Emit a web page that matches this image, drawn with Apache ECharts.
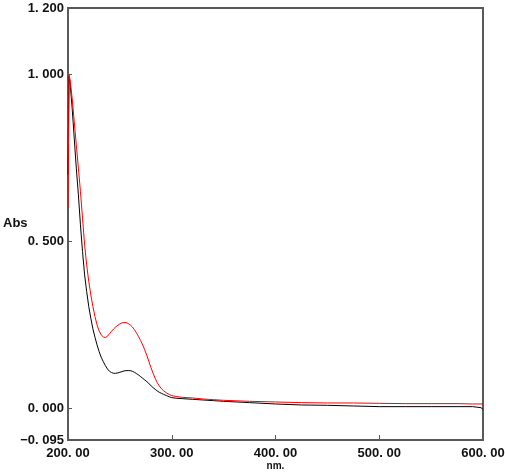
<!DOCTYPE html>
<html>
<head>
<meta charset="utf-8">
<script src="https://cdn.jsdelivr.net/npm/echarts@6/dist/echarts.min.js"></script>
<style>
  html, body { margin: 0; padding: 0; background: #fff; }
  #chart { width: 505px; height: 474px; }
</style>
</head>
<body>
<div id="chart"></div>
<script>
// wavelength (nm) shared by both spectra
var wavelengths = [200, 201, 202, 204, 206, 208, 210, 212, 214, 216, 218, 220, 222, 224, 226, 228, 230,
  232, 234, 236, 238, 240, 242, 244, 246, 248, 250, 252, 254, 256, 258, 260, 262, 264, 266, 268, 270,
  272, 274, 276, 278, 280, 282, 284, 286, 288, 290, 292, 295, 298, 300, 305, 310, 320, 330, 340, 350,
  375, 400, 425, 450, 475, 500, 525, 550, 575, 590, 598, 600]

var redAbs = [0.60, 1.00, 0.985, 0.93, 0.86, 0.79, 0.72, 0.65, 0.57, 0.49, 0.43, 0.38, 0.34, 0.305, 0.275,
  0.25, 0.232, 0.22, 0.214, 0.212, 0.216, 0.224, 0.231, 0.238, 0.244, 0.249, 0.253, 0.256, 0.257, 0.257,
  0.254, 0.25, 0.244, 0.236, 0.226, 0.215, 0.203, 0.19, 0.175, 0.158, 0.14, 0.122, 0.105, 0.09, 0.077,
  0.067, 0.059, 0.053, 0.046, 0.041, 0.038, 0.035, 0.033, 0.031, 0.028, 0.026, 0.024, 0.021, 0.019,
  0.017, 0.016, 0.016, 0.015, 0.014, 0.014, 0.014, 0.013, 0.013, 0.013]

var blackAbs = [0.70, 0.995, 0.975, 0.90, 0.81, 0.72, 0.64, 0.55, 0.47, 0.40, 0.35, 0.305, 0.27, 0.238,
  0.213, 0.19, 0.17, 0.153, 0.14, 0.128, 0.118, 0.111, 0.107, 0.105, 0.105, 0.106, 0.108, 0.11, 0.112,
  0.113, 0.113, 0.113, 0.111, 0.108, 0.104, 0.1, 0.095, 0.09, 0.085, 0.08, 0.074, 0.068, 0.062, 0.057,
  0.052, 0.048, 0.045, 0.042, 0.038, 0.034, 0.032, 0.03, 0.029, 0.027, 0.025, 0.023, 0.021, 0.017,
  0.013, 0.01, 0.009, 0.007, 0.005, 0.005, 0.005, 0.005, 0.005, 0.002, -0.003]

var yTicks = [-0.095, 0, 0.5, 1.0, 1.2]
var xTicks = [200, 300, 400, 500, 600]

function pairs (ys) {
  return wavelengths.map(function (x, i) { return [x, ys[i]] })
}

var frame = '#5a5a5a'
var labelFont = { color: '#111', fontWeight: 'bold', fontSize: 13, fontFamily: 'Liberation Sans' }

var myChart = echarts.init(document.getElementById('chart'))
var option = {
  animation: false,
  grid: {
    left: 68,
    top: 8,
    width: 415,
    height: 432,
    outerBoundsMode: 'none',
    containLabel: false,
    show: true,
    borderColor: frame,
    borderWidth: 2
  },
  // y axis title sits at the far left, level with the 0.5 tick
  graphic: [{
    type: 'text',
    left: 3,
    top: 217,
    style: { text: 'Abs', fill: '#111', font: 'bold 13px "Liberation Sans"' }
  }],
  xAxis: {
    type: 'value',
    min: 200,
    max: 600,
    interval: 100,
    name: 'nm.',
    nameLocation: 'middle',
    nameGap: 21,
    nameMoveOverlap: false,
    nameTextStyle: { color: '#111', fontWeight: 'bold', fontSize: 10, fontFamily: 'Liberation Sans' },
    axisLine: { show: true, onZero: false, lineStyle: { color: frame, width: 2 } },
    axisTick: { inside: true, length: 5, customValues: xTicks, lineStyle: { color: frame } },
    splitLine: { show: false },
    axisLabel: Object.assign({
      customValues: xTicks,
      margin: 7,
      formatter: function (v) { return v.toFixed(2).replace('.', '. ') }
    }, labelFont)
  },
  yAxis: {
    type: 'value',
    min: -0.095,
    max: 1.2,
    axisLine: { show: true, onZero: false, lineStyle: { color: frame, width: 2 } },
    axisTick: { inside: true, length: 4, customValues: yTicks, lineStyle: { color: frame } },
    splitLine: { show: false },
    axisLabel: Object.assign({
      customValues: yTicks,
      margin: 4,
      formatter: function (v) { return v.toFixed(3).replace('.', '. ').replace('-', '\u2212') }
    }, labelFont)
  },
  series: [
    {
      name: 'black',
      type: 'line',
      showSymbol: false,
      data: pairs(blackAbs),
      lineStyle: { color: '#000', width: 1 },
      itemStyle: { color: '#000' }
    },
    {
      name: 'red',
      type: 'line',
      showSymbol: false,
      data: pairs(redAbs),
      lineStyle: { color: '#ff0000', width: 1 },
      itemStyle: { color: '#ff0000' }
    }
  ]
}
myChart.setOption(option)
</script>
</body>
</html>
